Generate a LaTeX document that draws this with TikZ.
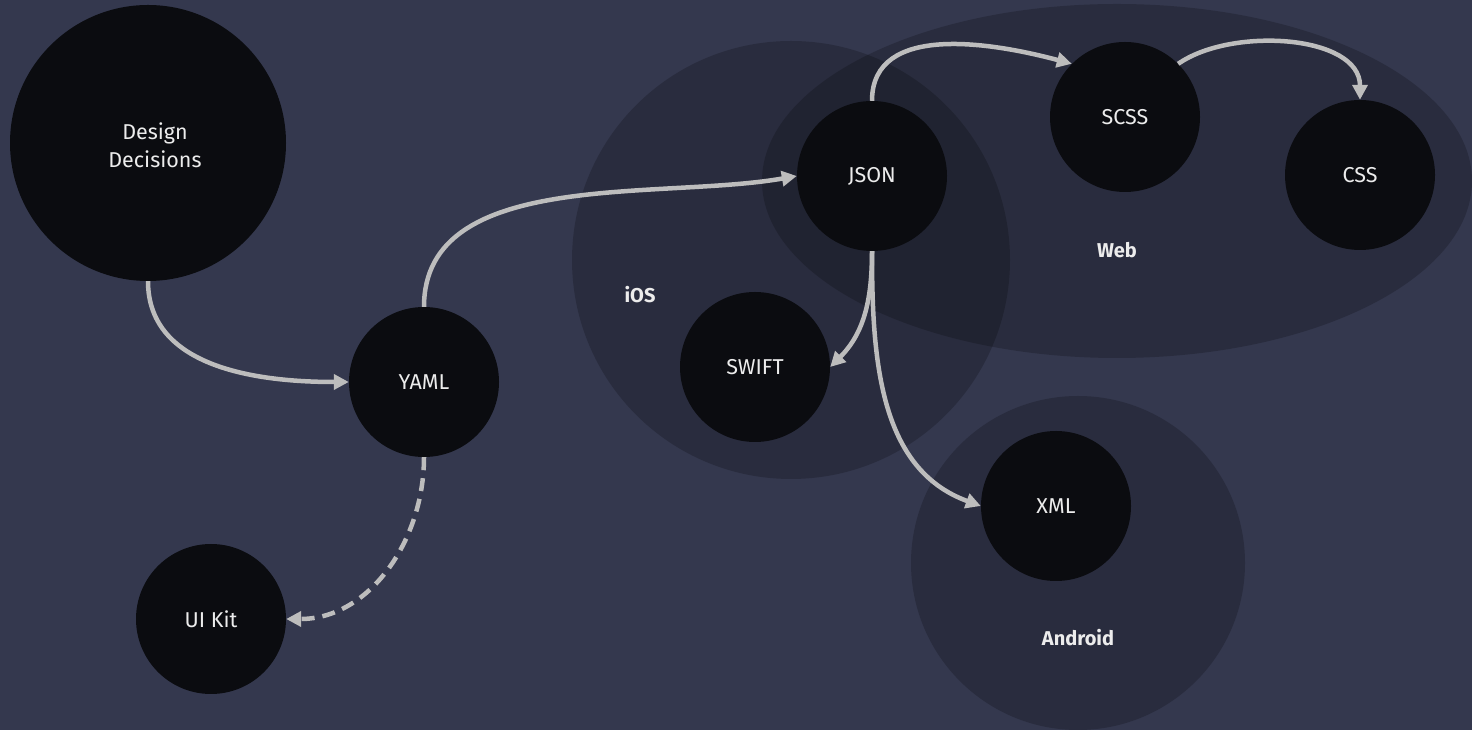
\documentclass[tikz,border=0pt]{standalone}
\usepackage{fontspec}
\setmainfont{Fira Sans}
\usetikzlibrary{arrows.meta,shapes.geometric}
\definecolor{bg}{RGB}{52,56,78}
\definecolor{nodefill}{RGB}{11,12,16}
\definecolor{arrowc}{RGB}{189,189,189}
\definecolor{txt}{RGB}{236,236,236}
\tikzset{
  token/.style={circle, fill=nodefill, minimum size=150pt, inner sep=0pt, text=txt, font=\fontsize{21.5}{28}\selectfont, align=center},
  groupbg/.style={fill=black, fill opacity=0.2, draw=none},
  grouplabel/.style={text=txt, font=\fontsize{20}{24}\selectfont\bfseries},
  flow/.style={draw=arrowc, line width=4.5pt, -{Triangle[length=15pt,width=15pt]}},
  dashedflow/.style={flow, dash pattern=on 13pt off 8pt},
}
\begin{document}
\begin{tikzpicture}[x=1pt,y=1pt]
\useasboundingbox (0,0) rectangle (1472,730);
\fill[bg] (0,0) rectangle (1472,730);
% groups
\path[groupbg] (791,470) circle [radius=219];
\path[groupbg] (1117,549) ellipse [x radius=355, y radius=177];
\path[groupbg] (1078,167) circle [radius=167];
\node[grouplabel] (ioslbl) at (640,435) {iOS};
\node[grouplabel] (weblbl) at (1117,480) {Web};
\node[grouplabel] (andlbl) at (1078,92) {Android};
% nodes
\node[token, minimum size=276pt] (dd) at (148,587) {};
\node[text=txt, font=\fontsize{21.5}{28}\selectfont, align=center] (ddtext) at (155,585) {Design\\Decisions};
\node[token] (yaml) at (424,348) {YAML};
\node[token] (uikit) at (211,111) {UI Kit};
\node[token] (json) at (872,554) {JSON};
\node[token] (scss) at (1125,613) {SCSS};
\node[token] (css) at (1360,555) {CSS};
\node[token] (swift) at (755,363) {SWIFT};
\node[token] (xml) at (1056,224) {XML};
% connectors
\draw[flow] (dd.south) to[out=-90,in=180] (yaml.west);
\draw[flow] (yaml.north) to[out=90,in=190,looseness=0.9] (json.west);
\draw[dashedflow] (yaml.south) to[out=-90,in=0] (uikit.east);
\draw[flow] (json.north) to[out=90,in=165] (scss.135);
\draw[flow] (scss.45) to[out=35,in=90,looseness=0.9] (css.north);
\draw[flow] (json.south) to[out=-90,in=45] (swift.east);
\draw[flow] (json.south) to[out=-90,in=160] (xml.west);
\end{tikzpicture}
\end{document}
